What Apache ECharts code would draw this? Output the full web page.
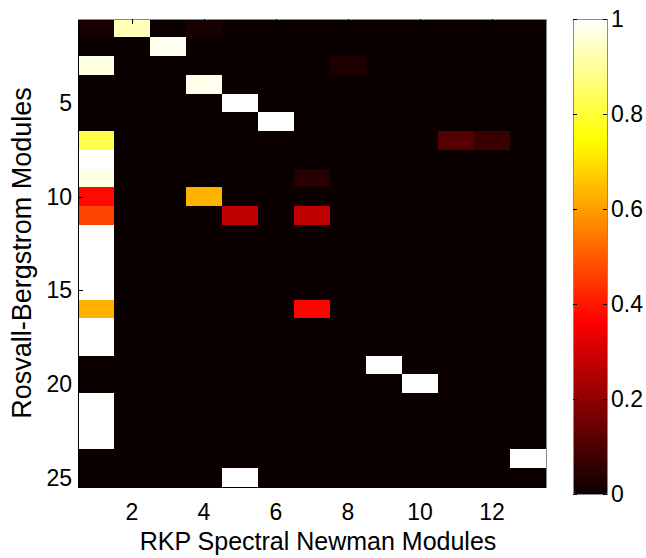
<!DOCTYPE html>
<html>
<head>
<meta charset="utf-8">
<script src="https://cdn.jsdelivr.net/npm/echarts@6/dist/echarts.min.js"></script>
<style>
    html, body { margin: 0; padding: 0; background: #fff; }
    #chart { width: 646px; height: 558px; }
    /* snap cell edges so neighbouring cells don't show hairline seams */
    #chart svg path { shape-rendering: crispEdges; }
</style>
</head>
<body>
<div id="chart"></div>
<script>
// RKP Spectral Newman modules (columns) vs Rosvall-Bergstrom modules (rows)
const colLabels = ['1', '2', '3', '4', '5', '6', '7', '8', '9', '10', '11', '12', '13'];
const rowLabels = ['1', '2', '3', '4', '5', '6', '7', '8', '9', '10', '11', '12', '13',
    '14', '15', '16', '17', '18', '19', '20', '21', '22', '23', '24', '25'];

// one row per Rosvall-Bergstrom module, 13 values each
const overlap = [
    [0.02, 0.93, 0, 0.02, 0, 0, 0, 0, 0, 0, 0, 0, 0],
    [0, 0, 0.985, 0, 0, 0, 0, 0, 0, 0, 0, 0, 0],
    [0.97, 0, 0, 0, 0, 0, 0, 0.03, 0, 0, 0, 0, 0],
    [0, 0, 0, 0.98, 0, 0, 0, 0, 0, 0, 0, 0, 0],
    [0, 0, 0, 0, 1, 0, 0, 0, 0, 0, 0, 0, 0],
    [0, 0, 0, 0, 0, 1, 0, 0, 0, 0, 0, 0, 0],
    [0.82, 0, 0, 0, 0, 0, 0, 0, 0, 0, 0.11, 0.07, 0],
    [1, 0, 0, 0, 0, 0, 0, 0, 0, 0, 0, 0, 0],
    [0.97, 0, 0, 0, 0, 0, 0.04, 0, 0, 0, 0, 0, 0],
    [0.38, 0, 0, 0.63, 0, 0, 0, 0, 0, 0, 0, 0, 0],
    [0.47, 0, 0, 0, 0.27, 0, 0.27, 0, 0, 0, 0, 0, 0],
    [1, 0, 0, 0, 0, 0, 0, 0, 0, 0, 0, 0, 0],
    [1, 0, 0, 0, 0, 0, 0, 0, 0, 0, 0, 0, 0],
    [1, 0, 0, 0, 0, 0, 0, 0, 0, 0, 0, 0, 0],
    [1, 0, 0, 0, 0, 0, 0, 0, 0, 0, 0, 0, 0],
    [0.63, 0, 0, 0, 0, 0, 0.37, 0, 0, 0, 0, 0, 0],
    [1, 0, 0, 0, 0, 0, 0, 0, 0, 0, 0, 0, 0],
    [1, 0, 0, 0, 0, 0, 0, 0, 0, 0, 0, 0, 0],
    [0, 0, 0, 0, 0, 0, 0, 0, 1, 0, 0, 0, 0],
    [0, 0, 0, 0, 0, 0, 0, 0, 0, 1, 0, 0, 0],
    [1, 0, 0, 0, 0, 0, 0, 0, 0, 0, 0, 0, 0],
    [1, 0, 0, 0, 0, 0, 0, 0, 0, 0, 0, 0, 0],
    [1, 0, 0, 0, 0, 0, 0, 0, 0, 0, 0, 0, 0],
    [0, 0, 0, 0, 0, 0, 0, 0, 0, 0, 0, 0, 1],
    [0, 0, 0, 0, 1, 0, 0, 0, 0, 0, 0, 0, 0],
];

// matlab "hot" colormap, 64 steps
const hotColors = [];
for (let k = 1; k <= 64; k++) {
    const r = Math.min(k / 24, 1);
    const g = Math.min(Math.max((k - 24) / 24, 0), 1);
    const b = Math.max((k - 48) / 16, 0);
    hotColors.push(`rgb(${Math.round(r * 255)},${Math.round(g * 255)},${Math.round(b * 255)})`);
}

const heatData = [];
overlap.forEach((row, r) => {
    row.forEach((v, c) => heatData.push([c, r, v]));
});

const font = 'Liberation Sans, Arial, Helvetica, sans-serif';
const everyNth = n => (index) => (index + 1) % n === 0;
// negative length makes the ticks point into the plot, like matlab
const inTick = (n, len) => ({
    show: true, inside: false, length: -len, alignWithLabel: true,
    interval: n ? everyNth(n) : 'auto', lineStyle: { color: '#000' },
});

const chart = echarts.init(document.getElementById('chart'), null, { renderer: 'svg' });
const option = {
    animation: false,
    backgroundColor: '#fff',
    textStyle: { fontFamily: font, color: '#000' },
    grid: [
        { left: 78, top: 19, width: 468, height: 475, show: true, z: 0,
          backgroundColor: hotColors[0], borderColor: '#8a8a8a', borderWidth: 1 },
        { left: 573, top: 19, width: 35, height: 475, show: true, z: 10,
          backgroundColor: 'transparent', borderColor: '#8a8a8a', borderWidth: 1 },
    ],
    xAxis: [
        {
            type: 'category', data: colLabels, gridIndex: 0, position: 'bottom', z: 5,
            name: 'RKP Spectral Newman Modules', nameLocation: 'middle', nameGap: 41,
            nameTextStyle: { fontSize: 25, fontFamily: font, color: '#000', padding: [0, 0, 0, 12] },
            axisLine: { lineStyle: { color: '#000', width: 1 } },
            axisTick: inTick(2, 5),
            axisLabel: { interval: everyNth(2), fontSize: 23, margin: 13, color: '#000', fontFamily: font },
            splitLine: { show: false },
        },
        {
            type: 'category', data: colLabels, gridIndex: 0, position: 'top', z: 5,
            axisLine: { lineStyle: { color: '#8a8a8a', width: 1 } },
            axisTick: inTick(2, 5),
            axisLabel: { show: false },
        },
        { type: 'value', gridIndex: 1, show: false, min: 0, max: 1 },
    ],
    yAxis: [
        {
            type: 'category', data: rowLabels, gridIndex: 0, inverse: true, position: 'left', z: 5,
            name: 'Rosvall-Bergstrom Modules', nameLocation: 'middle', nameGap: 42, nameRotate: 90,
            nameTextStyle: { fontSize: 27, fontFamily: font, color: '#000' },
            axisLine: { lineStyle: { color: '#000', width: 1 } },
            axisTick: inTick(5, 5),
            axisLabel: { interval: everyNth(5), fontSize: 23, margin: 6, color: '#000', fontFamily: font },
        },
        {
            type: 'category', data: rowLabels, gridIndex: 0, inverse: true, position: 'right', z: 5,
            axisLine: { lineStyle: { color: '#8a8a8a', width: 1 } },
            axisTick: inTick(5, 5),
            axisLabel: { show: false },
        },
        {
            type: 'value', gridIndex: 1, min: 0, max: 1, interval: 0.2, position: 'right', z: 11,
            axisLine: { show: false, onZero: false },
            axisTick: { show: true, inside: false, length: -4, lineStyle: { color: '#000' } },
            axisLabel: { fontSize: 23, margin: 4, color: '#000', fontFamily: font },
            splitLine: { show: false },
        },
        {
            type: 'value', gridIndex: 1, min: 0, max: 1, interval: 0.2, position: 'left', z: 11,
            axisLine: { show: false, onZero: false },
            axisTick: { show: true, inside: false, length: -4, lineStyle: { color: '#000' } },
            axisLabel: { show: false },
            splitLine: { show: false },
        },
    ],
    visualMap: {
        type: 'continuous',
        min: 0,
        max: 1,
        seriesIndex: 0,
        calculable: false,
        hoverLink: false,
        orient: 'vertical',
        left: 573,
        top: 19,
        padding: 0,
        z: 2,
        itemWidth: 35,
        itemHeight: 475,
        text: null,
        inRange: { color: hotColors },
    },
    series: [
        {
            type: 'heatmap',
            xAxisIndex: 0,
            yAxisIndex: 0,
            data: heatData,
            silent: true,
            emphasis: { disabled: true },
        },
    ],
};
chart.setOption(option);
</script>
</body>
</html>
